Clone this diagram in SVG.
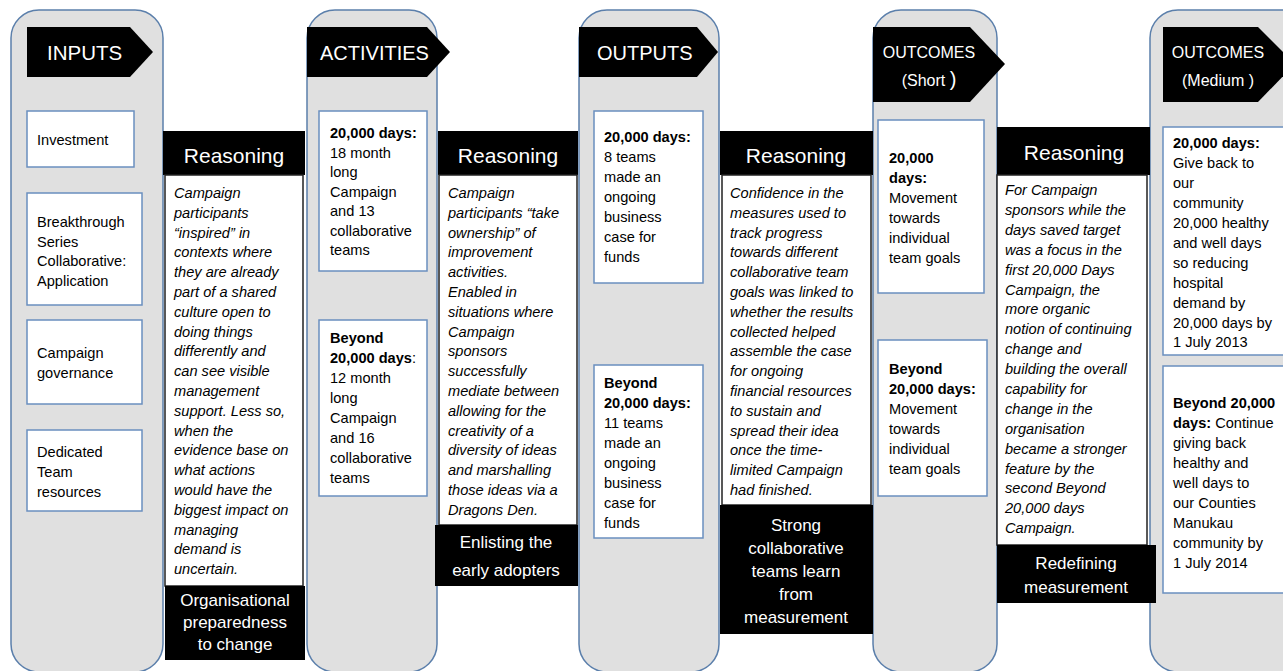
<svg xmlns="http://www.w3.org/2000/svg" width="1283" height="671" viewBox="0 0 1283 671">
<style>
.col{fill:#e0e0e0;stroke:#5b7fab;stroke-width:1.5}
.box{fill:#fff;stroke:#6a8fbf;stroke-width:1.5}
.rbox{fill:#fff;stroke:#222;stroke-width:1.5}
.blk{fill:#000}
.hd{font-family:"Liberation Sans",Arial,sans-serif;fill:#fff}
.t{font-family:"Liberation Sans",Arial,sans-serif;font-size:14.6px;fill:#000}
.it{font-family:"Liberation Sans",Arial,sans-serif;font-size:14.6px;font-style:italic;fill:#000}
.b{font-weight:bold}
.lab{font-family:"Liberation Sans",Arial,sans-serif;font-size:17px;fill:#fff;text-anchor:middle}
.rh{font-family:"Liberation Sans",Arial,sans-serif;font-size:21px;fill:#fff;text-anchor:middle}
</style>
<rect width="1283" height="671" fill="#fff"/>

<g id="col-inputs">
<rect class="col" x="11" y="10" width="152" height="662" rx="28"/>
<polygon class="blk" points="27,27 130,27 153,52 130,77 27,77"/>
<text class="hd" x="47" y="60" font-size="20.5">INPUTS</text>
<rect class="box" x="27" y="111" width="107" height="56"/>
<text class="t" x="37" y="145">Investment</text>
<rect class="box" x="27" y="193" width="115" height="112"/>
<text class="t"><tspan x="37" y="227">Breakthrough</tspan><tspan x="37" y="246.5">Series</tspan><tspan x="37" y="266">Collaborative:</tspan><tspan x="37" y="285.5">Application</tspan></text>
<rect class="box" x="27" y="320" width="115" height="84"/>
<text class="t"><tspan x="37" y="358">Campaign</tspan><tspan x="37" y="378">governance</tspan></text>
<rect class="box" x="27" y="430" width="115" height="81"/>
<text class="t"><tspan x="37" y="457">Dedicated</tspan><tspan x="37" y="477">Team</tspan><tspan x="37" y="497">resources</tspan></text>
</g>

<g id="col-activities">
<rect class="col" x="307" y="10" width="130" height="662" rx="28"/>
<polygon class="blk" points="307,27 427,27 450,52 427,77 307,77"/>
<text class="hd" x="320" y="60" font-size="20">ACTIVITIES</text>
<rect class="box" x="319" y="111" width="108" height="160"/>
<text class="t"><tspan x="330" y="138" class="b">20,000 days:</tspan><tspan x="330" y="157.5">18 month</tspan><tspan x="330" y="177">long</tspan><tspan x="330" y="196.5">Campaign</tspan><tspan x="330" y="216">and 13</tspan><tspan x="330" y="235.5">collaborative</tspan><tspan x="330" y="255">teams</tspan></text>
<rect class="box" x="319" y="320" width="108" height="176"/>
<text class="t"><tspan x="330" y="343" class="b">Beyond</tspan><tspan x="330" y="363" class="b">20,000 days<tspan font-weight="normal">:</tspan></tspan><tspan x="330" y="383">12 month</tspan><tspan x="330" y="403">long</tspan><tspan x="330" y="423">Campaign</tspan><tspan x="330" y="443">and 16</tspan><tspan x="330" y="463">collaborative</tspan><tspan x="330" y="483">teams</tspan></text>
</g>

<g id="col-outputs">
<rect class="col" x="579" y="10" width="140" height="662" rx="28"/>
<polygon class="blk" points="579,27 697,27 718,52 697,77 579,77"/>
<text class="hd" x="597" y="60" font-size="20">OUTPUTS</text>
<rect class="box" x="594" y="111" width="109" height="172"/>
<text class="t"><tspan x="604" y="142" class="b">20,000 days:</tspan><tspan x="604" y="162">8 teams</tspan><tspan x="604" y="182">made an</tspan><tspan x="604" y="202">ongoing</tspan><tspan x="604" y="222">business</tspan><tspan x="604" y="242">case for</tspan><tspan x="604" y="262">funds</tspan></text>
<rect class="box" x="594" y="365" width="109" height="173"/>
<text class="t"><tspan x="604" y="388" class="b">Beyond</tspan><tspan x="604" y="408" class="b">20,000 days:</tspan><tspan x="604" y="428">11 teams</tspan><tspan x="604" y="448">made an</tspan><tspan x="604" y="468">ongoing</tspan><tspan x="604" y="488">business</tspan><tspan x="604" y="508">case for</tspan><tspan x="604" y="528">funds</tspan></text>
</g>

<g id="col-outcomes-short">
<rect class="col" x="873" y="10" width="124" height="662" rx="28"/>
<polygon class="blk" points="873,27 970,27 1005,64 970,102 873,102"/>
<text class="hd" x="929" y="58" font-size="16" text-anchor="middle">OUTCOMES</text>
<text class="hd" x="929" y="86" font-size="16" text-anchor="middle">(Short <tspan font-size="20">)</tspan></text>
<rect class="box" x="878" y="120" width="106" height="173"/>
<text class="t"><tspan x="889" y="163" class="b">20,000</tspan><tspan x="889" y="183" class="b">days:</tspan><tspan x="889" y="203">Movement</tspan><tspan x="889" y="223">towards</tspan><tspan x="889" y="243">individual</tspan><tspan x="889" y="263">team goals</tspan></text>
<rect class="box" x="878" y="340" width="109" height="156"/>
<text class="t"><tspan x="889" y="374" class="b">Beyond</tspan><tspan x="889" y="394" class="b">20,000 days:</tspan><tspan x="889" y="414">Movement</tspan><tspan x="889" y="434">towards</tspan><tspan x="889" y="454">individual</tspan><tspan x="889" y="474">team goals</tspan></text>
</g>

<g id="col-outcomes-medium">
<rect class="col" x="1150" y="10" width="160" height="662" rx="28"/>
<polygon class="blk" points="1163,27 1258,27 1295,64 1258,102 1163,102"/>
<text class="hd" x="1218" y="58" font-size="16" text-anchor="middle">OUTCOMES</text>
<text class="hd" x="1218" y="86" font-size="16" text-anchor="middle">(Medium )</text>
<rect class="box" x="1163" y="127" width="135" height="228"/>
<text class="t"><tspan x="1173" y="148" class="b">20,000 days:</tspan><tspan x="1173" y="168">Give back to</tspan><tspan x="1173" y="188">our</tspan><tspan x="1173" y="208">community</tspan><tspan x="1173" y="228">20,000 healthy</tspan><tspan x="1173" y="248">and well days</tspan><tspan x="1173" y="268">so reducing</tspan><tspan x="1173" y="288">hospital</tspan><tspan x="1173" y="308">demand by</tspan><tspan x="1173" y="328">20,000 days by</tspan><tspan x="1173" y="347">1 July 2013</tspan></text>
<rect class="box" x="1163" y="366" width="135" height="227"/>
<text class="t"><tspan x="1173" y="408" class="b">Beyond 20,000</tspan><tspan x="1173" y="428"><tspan class="b">days:</tspan> Continue</tspan><tspan x="1173" y="448">giving back</tspan><tspan x="1173" y="468">healthy and</tspan><tspan x="1173" y="488">well days to</tspan><tspan x="1173" y="508">our Counties</tspan><tspan x="1173" y="528">Manukau</tspan><tspan x="1173" y="548">community by</tspan><tspan x="1173" y="568">1 July 2014</tspan></text>
</g>

<g id="reasoning-1">
<rect class="blk" x="163" y="131" width="142" height="44"/>
<text class="rh" x="234" y="163">Reasoning</text>
<rect class="rbox" x="165" y="175" width="138" height="411"/>
<text class="it"><tspan x="174" y="198">Campaign</tspan><tspan x="174" dy="19.8">participants</tspan><tspan x="174" dy="19.8">“inspired” in</tspan><tspan x="174" dy="19.8">contexts where</tspan><tspan x="174" dy="19.8">they are already</tspan><tspan x="174" dy="19.8">part of a shared</tspan><tspan x="174" dy="19.8">culture open to</tspan><tspan x="174" dy="19.8">doing things</tspan><tspan x="174" dy="19.8">differently and</tspan><tspan x="174" dy="19.8">can see visible</tspan><tspan x="174" dy="19.8">management</tspan><tspan x="174" dy="19.8">support. Less so,</tspan><tspan x="174" dy="19.8">when the</tspan><tspan x="174" dy="19.8">evidence base on</tspan><tspan x="174" dy="19.8">what actions</tspan><tspan x="174" dy="19.8">would have the</tspan><tspan x="174" dy="19.8">biggest impact on</tspan><tspan x="174" dy="19.8">managing</tspan><tspan x="174" dy="19.8">demand is</tspan><tspan x="174" dy="19.8">uncertain.</tspan></text>
<rect class="blk" x="165" y="586" width="140" height="74"/>
<text class="lab"><tspan x="235" y="606">Organisational</tspan><tspan x="235" y="628">preparedness</tspan><tspan x="235" y="650">to change</tspan></text>
</g>

<g id="reasoning-2">
<rect class="blk" x="438" y="131" width="140" height="44"/>
<text class="rh" x="508" y="163">Reasoning</text>
<rect class="rbox" x="439" y="175" width="138" height="350"/>
<text class="it"><tspan x="448" y="198">Campaign</tspan><tspan x="448" dy="19.8">participants “take</tspan><tspan x="448" dy="19.8">ownership” of</tspan><tspan x="448" dy="19.8">improvement</tspan><tspan x="448" dy="19.8">activities.</tspan><tspan x="448" dy="19.8">Enabled in</tspan><tspan x="448" dy="19.8">situations where</tspan><tspan x="448" dy="19.8">Campaign</tspan><tspan x="448" dy="19.8">sponsors</tspan><tspan x="448" dy="19.8">successfully</tspan><tspan x="448" dy="19.8">mediate between</tspan><tspan x="448" dy="19.8">allowing for the</tspan><tspan x="448" dy="19.8">creativity of a</tspan><tspan x="448" dy="19.8">diversity of ideas</tspan><tspan x="448" dy="19.8">and marshalling</tspan><tspan x="448" dy="19.8">those ideas via a</tspan><tspan x="448" dy="19.8">Dragons Den.</tspan></text>
<rect class="blk" x="435" y="525" width="143" height="61"/>
<text class="lab"><tspan x="506" y="548">Enlisting the</tspan><tspan x="506" y="576">early adopters</tspan></text>
</g>

<g id="reasoning-3">
<rect class="blk" x="720" y="131" width="153" height="44"/>
<text class="rh" x="796" y="163">Reasoning</text>
<rect class="rbox" x="722" y="175" width="149" height="330"/>
<text class="it"><tspan x="730" y="198">Confidence in the</tspan><tspan x="730" dy="19.8">measures used to</tspan><tspan x="730" dy="19.8">track progress</tspan><tspan x="730" dy="19.8">towards different</tspan><tspan x="730" dy="19.8">collaborative team</tspan><tspan x="730" dy="19.8">goals was linked to</tspan><tspan x="730" dy="19.8">whether the results</tspan><tspan x="730" dy="19.8">collected helped</tspan><tspan x="730" dy="19.8">assemble the case</tspan><tspan x="730" dy="19.8">for ongoing</tspan><tspan x="730" dy="19.8">financial resources</tspan><tspan x="730" dy="19.8">to sustain and</tspan><tspan x="730" dy="19.8">spread their idea</tspan><tspan x="730" dy="19.8">once the time-</tspan><tspan x="730" dy="19.8">limited Campaign</tspan><tspan x="730" dy="19.8">had finished.</tspan></text>
<rect class="blk" x="720" y="505" width="153" height="129"/>
<text class="lab"><tspan x="796" y="531">Strong</tspan><tspan x="796" y="554">collaborative</tspan><tspan x="796" y="577">teams learn</tspan><tspan x="796" y="600">from</tspan><tspan x="796" y="623">measurement</tspan></text>
</g>

<g id="reasoning-4">
<rect class="blk" x="997" y="127" width="153" height="48"/>
<text class="rh" x="1074" y="160">Reasoning</text>
<rect class="rbox" x="997" y="175" width="150" height="370"/>
<text class="it"><tspan x="1005" y="195">For Campaign</tspan><tspan x="1005" dy="19.9">sponsors while the</tspan><tspan x="1005" dy="19.9">days saved target</tspan><tspan x="1005" dy="19.9">was a focus in the</tspan><tspan x="1005" dy="19.9">first 20,000 Days</tspan><tspan x="1005" dy="19.9">Campaign, the</tspan><tspan x="1005" dy="19.9">more organic</tspan><tspan x="1005" dy="19.9">notion of continuing</tspan><tspan x="1005" dy="19.9">change and</tspan><tspan x="1005" dy="19.9">building the overall</tspan><tspan x="1005" dy="19.9">capability for</tspan><tspan x="1005" dy="19.9">change in the</tspan><tspan x="1005" dy="19.9">organisation</tspan><tspan x="1005" dy="19.9">became a stronger</tspan><tspan x="1005" dy="19.9">feature by the</tspan><tspan x="1005" dy="19.9">second Beyond</tspan><tspan x="1005" dy="19.9">20,000 days</tspan><tspan x="1005" dy="19.9">Campaign.</tspan></text>
<rect class="blk" x="997" y="545" width="159" height="58"/>
<text class="lab"><tspan x="1076" y="569">Redefining</tspan><tspan x="1076" y="593">measurement</tspan></text>
</g>
</svg>
